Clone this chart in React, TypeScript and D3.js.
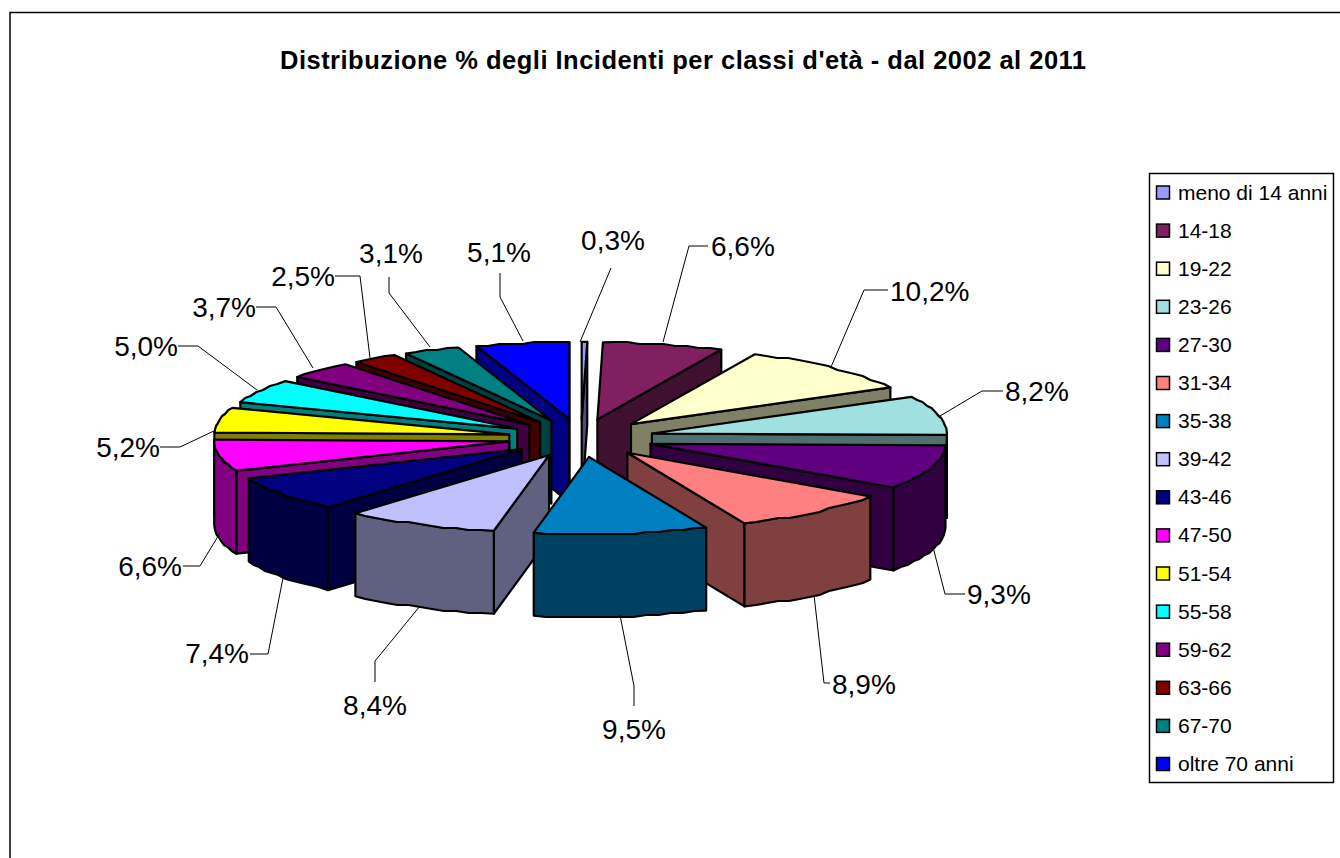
import React from "react";
import * as d3 from "d3";

const categories = ["meno di 14 anni","14-18","19-22","23-26","27-30","31-34","35-38","39-42","43-46","47-50","51-54","55-58","59-62","63-66","67-70","oltre 70 anni"];
const values = [0.3,6.6,10.2,8.2,9.3,8.9,9.5,8.4,7.4,6.6,5.2,5.0,3.7,2.5,3.1,5.1];
const labels = ["0,3%","6,6%","10,2%","8,2%","9,3%","8,9%","9,5%","8,4%","7,4%","6,6%","5,2%","5,0%","3,7%","2,5%","3,1%","5,1%"];
const colors = ["#9999FF","#802060","#FFFFCC","#A0E0E0","#600080","#FF8080","#0080C0","#C0C0FF","#000080","#FF00FF","#FFFF00","#00FFFF","#800080","#800000","#008080","#0000FF"];
const title = "Distribuzione % degli Incidenti per classi d'età - dal 2002 al 2011";

// layout of the data labels: text anchor + leader line
const labelLayout: { x: number; y: number; anchor: string; line: [number, number][] }[] = [
  { x: 613, y: 250, anchor: "middle", line: [[611, 268], [580, 342]] },
  { x: 711, y: 256, anchor: "start", line: [[708, 246], [689, 246], [663, 342]] },
  { x: 890, y: 301, anchor: "start", line: [[888, 290], [864, 290], [831, 367]] },
  { x: 1005, y: 401, anchor: "start", line: [[1003, 391], [982, 391], [940, 416]] },
  { x: 967, y: 604, anchor: "start", line: [[965, 594], [945, 594], [933, 547]] },
  { x: 832, y: 694, anchor: "start", line: [[830, 683], [824, 683], [814, 595]] },
  { x: 634, y: 739, anchor: "middle", line: [[634, 706], [634, 686], [620, 615]] },
  { x: 375, y: 715, anchor: "middle", line: [[375, 682], [375, 661], [420, 606]] },
  { x: 249, y: 663, anchor: "end", line: [[250, 654], [268, 654], [283, 578]] },
  { x: 182, y: 576, anchor: "end", line: [[183, 566], [200, 566], [220, 533]] },
  { x: 160, y: 457, anchor: "end", line: [[160, 447], [180, 447], [216, 430]] },
  { x: 178, y: 356, anchor: "end", line: [[178, 346], [198, 346], [257, 390]] },
  { x: 256, y: 317, anchor: "end", line: [[256, 307], [276, 307], [313, 368]] },
  { x: 335, y: 286, anchor: "end", line: [[335, 276], [360, 276], [370, 358]] },
  { x: 391, y: 263, anchor: "middle", line: [[389, 277], [389, 293], [430, 347]] },
  { x: 499, y: 262, anchor: "middle", line: [[500, 273], [500, 297], [523, 341]] },
];

const W = 1340, H = 858;
const cx = 581, cy = 438, rx = 295, ry = 77, depth = 83, explode = 73;
const rimStep = 0.045, rimGrid = 2;

const pie = d3.pie<number>().sort(null).startAngle(0).endAngle(2 * Math.PI);
const arcs = pie(values);
const lineGen = d3.line<[number, number]>();
const px = (a: number, r: number) => r * Math.sin(a);
const py = (a: number, r: number) => (-r * Math.cos(a) * ry) / rx;
type P = [number, number];

// Rim sampled coarsely and snapped vertically, like the low-resolution outline of the source.
function rimPoints(a0: number, a1: number, ox: number, oy: number): P[] {
  if (a1 <= a0) return [];
  const n = Math.max(1, Math.ceil((a1 - a0) / rimStep));
  const t = d3.scaleLinear().domain([0, n]).range([a0, a1]);
  return d3.range(n + 1).map((i) => {
    const y = oy + py(t(i), rx);
    const snapped = i === 0 || i === n ? y : Math.round(y / rimGrid) * rimGrid;
    return [ox + px(t(i), rx), snapped] as P;
  });
}

function slices() {
  return arcs
    .map((d, i) => {
      const mid = (d.startAngle + d.endAngle) / 2;
      const ox = cx + px(mid, explode);
      const oy = cy + py(mid, explode);
      const rim = rimPoints(d.startAngle, d.endAngle, ox, oy);
      // the outer wall is only seen on the front half of the pie
      const front = rimPoints(Math.max(d.startAngle, Math.PI / 2), Math.min(d.endAngle, 1.5 * Math.PI), ox, oy);
      const apex: P = [ox, oy];
      return { i, mid, apex, rim, front, showA: Math.sin(d.startAngle) < 0, showB: Math.sin(d.endAngle) > 0 };
    })
    .sort((a, b) => d3.descending(Math.cos(a.mid), Math.cos(b.mid)));
}

const down = (p: P): P => [p[0], p[1] + depth];

export default function App() {
  const dark = (c: string) => { const r = d3.rgb(c); return d3.rgb(r.r / 2, r.g / 2, r.b / 2).formatHex(); };
  const rowY = d3.scaleLinear().domain([0, 15]).range([192.5, 764]);
  return (
    <svg width={W} height={H} style={{ position: "absolute", left: 0, top: 0, fontFamily: "'Liberation Sans', Arial, sans-serif" }}>
      <rect x={0} y={0} width={W} height={H} fill="#fff" />
      <rect x={10} y={12.5} width={1400} height={900} fill="#fff" stroke="#000" strokeWidth={1.5} />
      <text x={683} y={69} textAnchor="middle" fontSize={25.5} fontWeight="bold" fill="#000" textLength={806} lengthAdjust="spacing">{title}</text>
      {slices().map(({ i, apex, rim, front, showA, showB }) => {
        const c = colors[i], w = dark(c);
        const first = rim[0], last = rim[rim.length - 1];
        const wallA: P[] = [apex, first, down(first), down(apex)];
        const wallB: P[] = [apex, last, down(last), down(apex)];
        const outer: P[] = [...front, ...front.slice().reverse().map(down)];
        const top: P[] = [apex, ...rim];
        const common = { stroke: "#000", strokeWidth: 2.2, strokeLinejoin: "round" as const };
        return (
          <g key={i}>
            {showA && <path d={lineGen(wallA) + "Z"} fill={w} {...common} />}
            {showB && <path d={lineGen(wallB) + "Z"} fill={w} {...common} />}
            {front.length > 1 && <path d={lineGen(outer) + "Z"} fill={w} {...common} />}
            <path d={lineGen(top) + "Z"} fill={c} {...common} />
          </g>
        );
      })}
      {labelLayout.map((l, i) => (
        <g key={i}>
          <path d={lineGen(l.line) as string} fill="none" stroke="#000" strokeWidth={1} />
          <text x={l.x} y={l.y} textAnchor={l.anchor as any} fontSize={28} fill="#000">{labels[i]}</text>
        </g>
      ))}
      <rect x={1149.5} y={173.5} width={184} height={609} fill="#fff" stroke="#000" strokeWidth={1.5} />
      {categories.map((c, i) => (
        <g key={c}>
          <rect x={1156.5} y={rowY(i) - 6.5} width={13} height={13} fill={colors[i]} stroke="#000" strokeWidth={1.5} />
          <text x={1178} y={rowY(i) + 7} fontSize={21} fill="#000">{c}</text>
        </g>
      ))}
    </svg>
  );
}
